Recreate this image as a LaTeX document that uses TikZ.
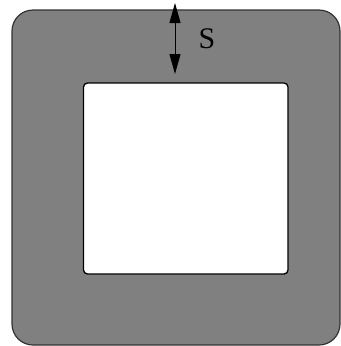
\documentclass[tikz,border=0pt]{standalone}
\usepackage{fontspec}
\setmainfont{Liberation Serif}
\usetikzlibrary{arrows.meta}
\begin{document}
\begin{tikzpicture}[x=1bp,y=-1bp,
  outerbox/.style={draw=black!80,fill=black!50,line width=1.2bp,rounded corners=21bp},
  innerbox/.style={draw=black,fill=white,line width=1.3bp,rounded corners=4bp},
  dimarrow/.style={line width=1bp,{Triangle[length=20bp,width=11bp]}-{Triangle[length=20bp,width=11bp]}}]
\useasboundingbox (0,0) rectangle (341,346);
\draw[outerbox] (12,10) rectangle (340,345);
\draw[innerbox] (83.5,83) rectangle (288,274);
\coordinate (atop) at (175,3);
\coordinate (abot) at (175,74);
\draw[dimarrow] (atop) -- (abot);
\node[inner sep=0pt] (s) at (207,39) {\fontsize{30}{34}\selectfont S};
\end{tikzpicture}
\end{document}
